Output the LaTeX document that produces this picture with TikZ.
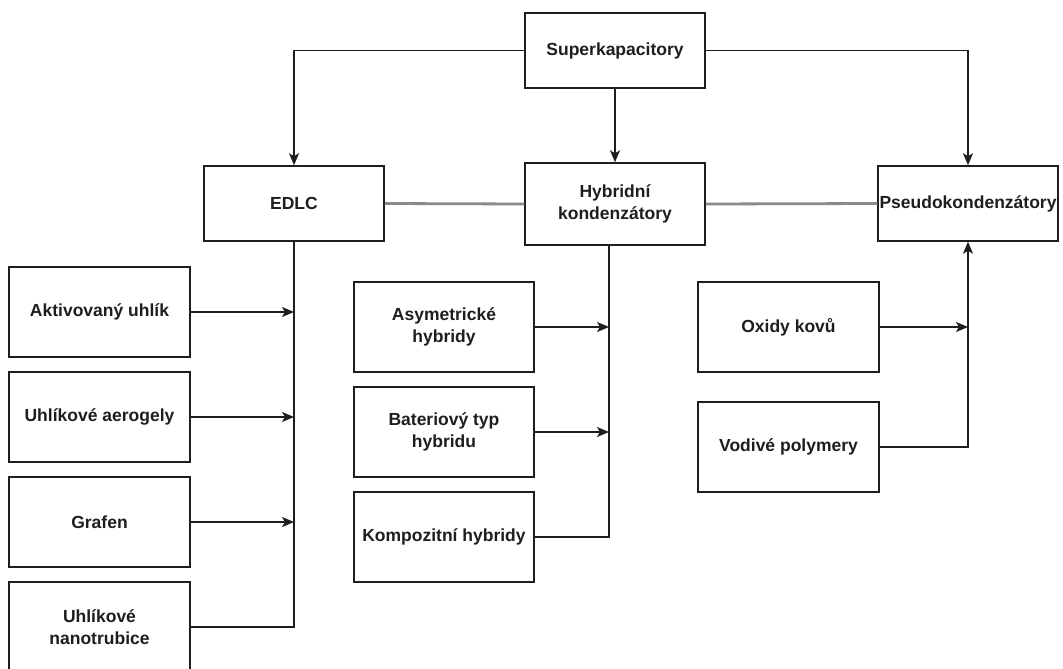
\documentclass[tikz,border=0pt]{standalone}
\usepackage{fontspec}
\setmainfont{Liberation Sans}
\usetikzlibrary{arrows.meta}
\definecolor{ink}{HTML}{1E1E1E}
\definecolor{grayline}{HTML}{8A8A8A}
\begin{document}
\begin{tikzpicture}[x=1pt,y=-1pt,
  box/.style={draw=ink, line width=1.5pt, rectangle, minimum width=180pt, minimum height=90pt,
    inner sep=0pt, align=center, text=ink, font=\fontsize{17.5}{22}\selectfont\bfseries},
  topbox/.style={box, minimum height=75pt},
  link/.style={draw=ink, line width=1.5pt},
  arr/.style={link, -{Stealth[length=12pt,width=10pt,inset=3pt]}},
  graylink/.style={draw=grayline, line width=2.8pt}]
\useasboundingbox (0,0) rectangle (1063,669);
\fill[white] (0,0) rectangle (1063,669);

% top level
\node[topbox] (sup) at (615,50.5) {Superkapacitory};
\node[topbox] (edlc) at (294,203.5) {EDLC};
\node[box, minimum height=82pt] (hyb) at (615,204) {Hybridní\\kondenzátory};
\node[topbox] (pse) at (968,203.5) {Pseudokondenzátory};

% left column
\node[box, minimum width=181pt] (akt) at (99.5,312) {Aktivovaný uhlík};
\node[box, minimum width=181pt] (aer) at (99.5,417) {Uhlíkové aerogely};
\node[box, minimum width=181pt] (gra) at (99.5,522) {Grafen};
\node[box, minimum width=181pt] (nano) at (99.5,627) {Uhlíkové\\nanotrubice};

% middle column
\node[box] (asy) at (444,327) {Asymetrické\\hybridy};
\node[box] (bat) at (444,432) {Bateriový typ\\hybridu};
\node[box] (kom) at (444,537) {Kompozitní hybridy};

% right column
\node[box, minimum width=181pt] (oxi) at (788.5,327) {Oxidy kovů};
\node[box, minimum width=181pt] (vod) at (788.5,447) {Vodivé polymery};

\coordinate (mx) at (609,0);

% connectors from top
\draw[arr] (sup.west) -| (edlc.north);
\draw[arr] (sup.south) -- (hyb.north);
\draw[arr] (sup.east) -| (pse.north);

% gray links
\draw[graylink] (edlc.east) -- (hyb.west);
\draw[graylink] (hyb.east) -- (pse.west);

% EDLC branch
\draw[link] (edlc.south) |- (nano.east);
\draw[arr] (akt.east) -- (akt.east -| edlc.south);
\draw[arr] (aer.east) -- (aer.east -| edlc.south);
\draw[arr] (gra.east) -- (gra.east -| edlc.south);

% hybrid branch
\draw[link] (hyb.south -| mx) |- (kom.east);
\draw[arr] (asy.east) -- (asy.east -| mx);
\draw[arr] (bat.east) -- (bat.east -| mx);

% pseudo branch
\draw[arr] (vod.east) -| (pse.south);
\draw[arr] (oxi.east) -- (oxi.east -| pse.south);
\end{tikzpicture}
\end{document}
